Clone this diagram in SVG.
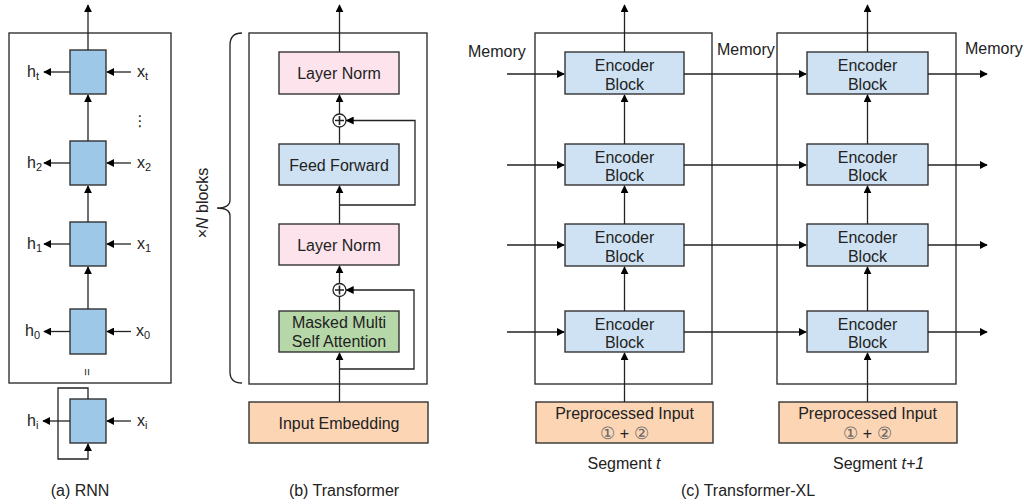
<svg xmlns="http://www.w3.org/2000/svg" width="1024" height="504" viewBox="0 0 1024 504">
<defs>
<marker id="ah" viewBox="0 0 10 10" refX="9" refY="5" markerWidth="8" markerHeight="8" markerUnits="userSpaceOnUse" orient="auto">
<path d="M0,0 L10,5 L0,10 z" fill="#000"/>
</marker>
</defs>
<style>
text{font-family:"Liberation Sans",Arial,sans-serif;fill:#222;}
.lbl{font-size:16px;text-anchor:middle;}
.cap{font-size:16px;text-anchor:middle;}
.frame{fill:none;stroke:#333;stroke-width:1.4;}
.cell{fill:#9dc8e8;stroke:#333;stroke-width:1.4;}
.enc{fill:#cfe2f3;stroke:#333;stroke-width:1.4;}
.ln{fill:#fde4ec;stroke:#333;stroke-width:1.4;}
.att{fill:#b6d7a8;stroke:#333;stroke-width:1.4;}
.emb{fill:#fcd5b5;stroke:#333;stroke-width:1.4;}
.c{fill:none;stroke:#222;stroke-width:1.3;}
.a{fill:none;stroke:#222;stroke-width:1.3;marker-end:url(#ah);}
.sub{font-size:11px;}
.num{fill:#666;font-size:17px;}
</style>

<!-- (a) RNN -->
<g id="rnn-frame"><rect class="frame" x="9" y="33" width="162" height="350"/></g>
<g id="rnn-cell-t"><rect class="cell" x="70" y="50" width="36" height="44"/></g>
<g id="rnn-cell-2"><rect class="cell" x="70" y="141" width="36" height="44"/></g>
<g id="rnn-cell-1"><rect class="cell" x="70" y="222" width="36" height="44"/></g>
<g id="rnn-cell-0"><rect class="cell" x="70" y="309" width="36" height="45"/></g>
<g id="rnn-cell-i"><rect class="cell" x="70" y="399" width="36" height="44"/></g>

<g id="rnn-labels" font-size="16">
<text x="27" y="77">h<tspan class="sub" dy="3">t</tspan></text>
<text x="137" y="77">x<tspan class="sub" dy="3">t</tspan></text>
<text x="27" y="168">h<tspan class="sub" dy="3">2</tspan></text>
<text x="137" y="168">x<tspan class="sub" dy="3">2</tspan></text>
<text x="27" y="249">h<tspan class="sub" dy="3">1</tspan></text>
<text x="137" y="249">x<tspan class="sub" dy="3">1</tspan></text>
<text x="25" y="336">h<tspan class="sub" dy="3">0</tspan></text>
<text x="136" y="336">x<tspan class="sub" dy="3">0</tspan></text>
<text x="27" y="426">h<tspan class="sub" dy="3">i</tspan></text>
<text x="137" y="426">x<tspan class="sub" dy="3">i</tspan></text>
<text x="140" y="126" font-size="15" text-anchor="middle" style="font-family:'DejaVu Sans',sans-serif">⋮</text>
<text x="0" y="0" font-size="13" text-anchor="middle" transform="translate(87,372) rotate(90)" dy="4">=</text>
<text class="cap" x="80" y="496">(a) RNN</text>
</g>

<!-- (b) Transformer -->
<g id="tf-frame"><rect class="frame" x="249" y="33" width="178" height="351"/></g>
<g id="tf-brace"><path class="c" d="M242,33 Q230,33 230,45 L230,200 Q230,208 217,208 Q230,208 230,216 L230,372 Q230,383 242,383"/>
<text x="0" y="0" font-size="16" text-anchor="middle" transform="translate(208,203) rotate(-90)">×<tspan font-style="italic">N</tspan> blocks</text></g>
<g id="tf-ln-top"><rect class="ln" x="279" y="52" width="120" height="42"/><text class="lbl" x="339" y="79">Layer Norm</text></g>
<g id="tf-ff"><rect class="enc" x="279" y="144" width="120" height="41"/><text class="lbl" x="339" y="170.5">Feed Forward</text></g>
<g id="tf-ln-bot"><rect class="ln" x="279" y="224" width="120" height="41"/><text class="lbl" x="339" y="250.5">Layer Norm</text></g>
<g id="tf-att"><rect class="att" x="279" y="311" width="120" height="41"/><text class="lbl" x="339" y="328">Masked Multi</text><text class="lbl" x="339" y="347">Self Attention</text></g>
<g id="tf-emb"><rect class="emb" x="249" y="402" width="179" height="41"/><text class="lbl" x="339" y="428.5">Input Embedding</text></g>
<g id="tf-plus-top"><circle cx="339.5" cy="120.5" r="6.5" fill="#fff" stroke="#222" stroke-width="1.3"/><path d="M335,120.5 H344 M339.5,116 V125" stroke="#222" stroke-width="1.6"/></g>
<g id="tf-plus-bot"><circle cx="339.5" cy="290" r="6.5" fill="#fff" stroke="#222" stroke-width="1.3"/><path d="M335,290 H344 M339.5,285.5 V294.5" stroke="#222" stroke-width="1.6"/></g>
<text class="cap" x="344" y="496">(b) Transformer</text>

<!-- (c) Transformer-XL -->
<g id="xl-frame-t"><rect class="frame" x="535" y="33" width="177" height="351"/></g>
<g id="xl-frame-t1"><rect class="frame" x="777" y="33" width="179" height="351"/></g>
<g id="xl-t-enc1"><rect class="enc" x="565" y="52" width="119" height="42"/><text class="lbl" x="624.5" y="71">Encoder</text><text class="lbl" x="624.5" y="89.5">Block</text></g>
<g id="xl-t-enc2"><rect class="enc" x="565" y="144" width="119" height="41"/><text class="lbl" x="624.5" y="162.5">Encoder</text><text class="lbl" x="624.5" y="181">Block</text></g>
<g id="xl-t-enc3"><rect class="enc" x="565" y="224" width="119" height="42"/><text class="lbl" x="624.5" y="243">Encoder</text><text class="lbl" x="624.5" y="261.5">Block</text></g>
<g id="xl-t-enc4"><rect class="enc" x="565" y="311" width="119" height="41"/><text class="lbl" x="624.5" y="329.5">Encoder</text><text class="lbl" x="624.5" y="348">Block</text></g>
<g id="xl-t1-enc1"><rect class="enc" x="807" y="52" width="121" height="42"/><text class="lbl" x="867.5" y="71">Encoder</text><text class="lbl" x="867.5" y="89.5">Block</text></g>
<g id="xl-t1-enc2"><rect class="enc" x="807" y="144" width="121" height="41"/><text class="lbl" x="867.5" y="162.5">Encoder</text><text class="lbl" x="867.5" y="181">Block</text></g>
<g id="xl-t1-enc3"><rect class="enc" x="807" y="224" width="121" height="42"/><text class="lbl" x="867.5" y="243">Encoder</text><text class="lbl" x="867.5" y="261.5">Block</text></g>
<g id="xl-t1-enc4"><rect class="enc" x="807" y="311" width="121" height="41"/><text class="lbl" x="867.5" y="329.5">Encoder</text><text class="lbl" x="867.5" y="348">Block</text></g>
<g id="xl-t-input"><rect class="emb" x="536" y="402" width="177" height="41"/><text class="lbl" x="624.5" y="419">Preprocessed Input</text><text class="lbl" x="624.5" y="439"><tspan class="num">①</tspan> + <tspan class="num">②</tspan></text></g>
<g id="xl-t1-input"><rect class="emb" x="779" y="402" width="178" height="41"/><text class="lbl" x="867.5" y="419">Preprocessed Input</text><text class="lbl" x="867.5" y="439"><tspan class="num">①</tspan> + <tspan class="num">②</tspan></text></g>
<g id="xl-labels">
<text x="468" y="57" font-size="16">Memory</text>
<text x="717" y="55" font-size="16">Memory</text>
<text x="965" y="54" font-size="16">Memory</text>
<text class="lbl" x="624" y="469">Segment <tspan font-style="italic">t</tspan></text>
<text x="833" y="469" font-size="16">Segment <tspan font-style="italic">t+1</tspan></text>
<text class="cap" x="748" y="496">(c) Transformer-XL</text>
</g>

<g id="connectors">
<!-- RNN -->
<path class="a" d="M88,50 V5"/>
<path class="a" d="M88,141 V95"/>
<path class="a" d="M88,222 V186"/>
<path class="a" d="M88,309 V267"/>
<path class="a" d="M70,72 H44"/>
<path class="a" d="M70,163 H44"/>
<path class="a" d="M70,244 H44"/>
<path class="a" d="M70,331.5 H44"/>
<path class="a" d="M70,421 H43"/>
<path class="a" d="M131,72 H107"/>
<path class="a" d="M131,163 H107"/>
<path class="a" d="M131,244 H107"/>
<path class="a" d="M131,331.5 H107"/>
<path class="a" d="M131,421 H107"/>
<path class="a" d="M88,399 V388 H58 V459 H88 V444"/>
<!-- Transformer -->
<path class="a" d="M339.5,52 V5"/>
<path class="a" d="M339.5,114 V95"/>
<path class="c" d="M339.5,144 V127"/>
<path class="a" d="M339.5,224 V186"/>
<path class="a" d="M339.5,283.5 V266"/>
<path class="c" d="M339.5,311 V296.5"/>
<path class="a" d="M339.5,402 V353"/>
<path class="a" d="M339.5,205 H415 V120.5 H346.5"/>
<path class="a" d="M339.5,369 H414 V290 H346.5"/>
<!-- Transformer-XL segment t -->
<path class="a" d="M624.5,52 V5"/>
<path class="a" d="M624.5,144 V95"/>
<path class="a" d="M624.5,224 V186"/>
<path class="a" d="M624.5,311 V267"/>
<path class="a" d="M624.5,402 V353"/>
<path class="a" d="M507,74 H564"/>
<path class="a" d="M507,165 H564"/>
<path class="a" d="M507,245 H564"/>
<path class="a" d="M507,332 H564"/>
<path class="a" d="M684,74 H806"/>
<path class="a" d="M684,165 H806"/>
<path class="a" d="M684,245 H806"/>
<path class="a" d="M684,332 H806"/>
<!-- segment t+1 -->
<path class="a" d="M867.5,52 V5"/>
<path class="a" d="M867.5,144 V95"/>
<path class="a" d="M867.5,224 V186"/>
<path class="a" d="M867.5,311 V267"/>
<path class="a" d="M867.5,402 V353"/>
<path class="a" d="M928,74 H987"/>
<path class="a" d="M928,165 H987"/>
<path class="a" d="M928,245 H987"/>
<path class="a" d="M928,332 H987"/>
</g>
</svg>
